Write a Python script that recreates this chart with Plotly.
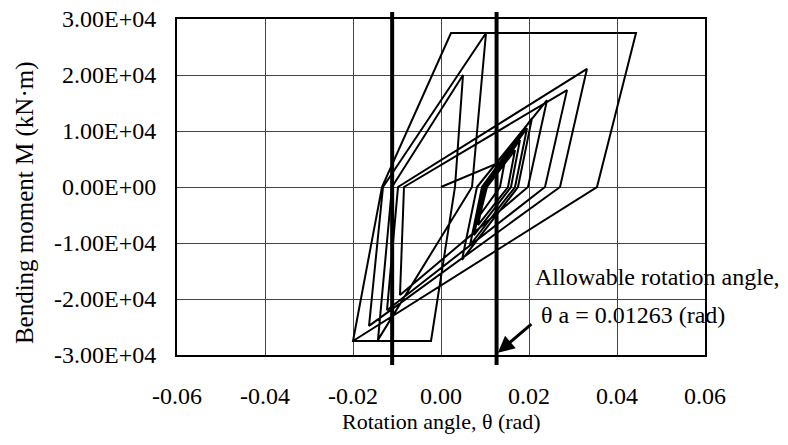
import plotly.graph_objects as go

# Hysteresis path: rotation angle (rad) and bending moment (kN·m)
theta = [0.0,
         0.01455, 0.01341, 0.00886, 0.01045,
         0.01682, 0.01523, 0.00841, 0.01023,
         0.01795, 0.01591, 0.0075, 0.00977,
         0.01955, 0.01682, 0.00659, 0.00932,
         0.02068, 0.0175, 0.00477, 0.00818,
         0.02409, 0.01977, -0.00932, -0.00841,
         0.02864, 0.02364, -0.01227, -0.00977,
         0.03318, 0.02705, -0.01636, -0.01318,
         0.01023, 0.00705, -0.01432, -0.01114,
         0.005, 0.00318, -0.00227, -0.02, -0.01341,
         0.00227, 0.04432, 0.03545, -0.02]
moment = [0,
          4800, 0, -5000, 0,
          6600, 0, -6800, 0,
          8400, 0, -8600, 0,
          10500, 0, -10400, 0,
          12300, 0, -13000, 0,
          15500, 0, -19300, 0,
          17300, 0, -22000, 0,
          21100, 0, -24800, 0,
          27500, 0, -27300, 0,
          20000, 0, -27500, -27500, 0,
          27500, 27500, 0, -27500]

allowable_theta = 0.01263
left_limit_theta = -0.0111

x_tickvals = [-0.06, -0.04, -0.02, 0.0, 0.02, 0.04, 0.06]
x_ticktext = ["-0.06", "-0.04", "-0.02", "0.00", "0.02", "0.04", "0.06"]
y_tickvals = [-30000, -20000, -10000, 0, 10000, 20000, 30000]
y_ticktext = ["-3.00E+04", "-2.00E+04", "-1.00E+04", "0.00E+00",
              "1.00E+04", "2.00E+04", "3.00E+04"]

FONT = "Liberation Serif"

fig = go.Figure()
fig.add_trace(go.Scatter(x=theta, y=moment, mode="lines",
                         line=dict(color="black", width=2), showlegend=False,
                         hoverinfo="skip"))

for xv in [left_limit_theta, allowable_theta]:
    fig.add_shape(type="line", xref="x", yref="paper", x0=xv, x1=xv,
                  y0=-0.03, y1=1.021, line=dict(color="black", width=4), layer="above")

fig.add_annotation(x=allowable_theta + 0.0003, y=-29600, xref="x", yref="y",
                   ax=35, ay=-30, showarrow=True, arrowhead=2, arrowsize=1.1,
                   arrowwidth=3, arrowcolor="black", text="")

fig.add_annotation(x=0.674, y=0.232, xref="paper", yref="paper",
                   xanchor="left", yanchor="middle", showarrow=False,
                   text="Allowable rotation angle,", font=dict(family=FONT, size=24, color="black"))
fig.add_annotation(x=0.685, y=0.119, xref="paper", yref="paper",
                   xanchor="left", yanchor="middle", showarrow=False,
                   text="θ a = 0.01263 (rad)", font=dict(family=FONT, size=24, color="black"))

fig.add_annotation(x=0.5, y=-0.198, xref="paper", yref="paper",
                   xanchor="center", yanchor="middle", showarrow=False,
                   text="Rotation angle, θ (rad)", font=dict(family=FONT, size=22, color="black"))
fig.add_annotation(x=-0.2879, y=0.455, xref="paper", yref="paper",
                   xanchor="center", yanchor="middle", showarrow=False, textangle=-90,
                   text="Bending moment M (kN·m)", font=dict(family=FONT, size=25, color="black"))

fig.update_xaxes(range=[-0.06, 0.06], tickvals=x_tickvals, ticktext=x_ticktext,
                 showgrid=True, gridcolor="#444", gridwidth=1, zeroline=False,
                 showline=True, linecolor="black", linewidth=2, mirror=True,
                 ticks="", ticklabelstandoff=18, automargin=False,
                 ticklabeloverflow="allow",
                 tickfont=dict(family=FONT, size=24, color="black"))
fig.update_yaxes(range=[-30000, 30000], tickvals=y_tickvals, ticktext=y_ticktext,
                 showgrid=True, gridcolor="#444", gridwidth=1, zeroline=False,
                 showline=True, linecolor="black", linewidth=2, mirror=True,
                 ticks="", ticklabelstandoff=14, automargin=False,
                 ticklabeloverflow="allow",
                 tickfont=dict(family=FONT, size=24, color="black"))

fig.update_layout(width=780, height=437, margin=dict(l=169, r=83, t=11, b=90),
                  paper_bgcolor="white", plot_bgcolor="white",
                  font=dict(family=FONT, color="black"))

fig.write_html("out.html")
